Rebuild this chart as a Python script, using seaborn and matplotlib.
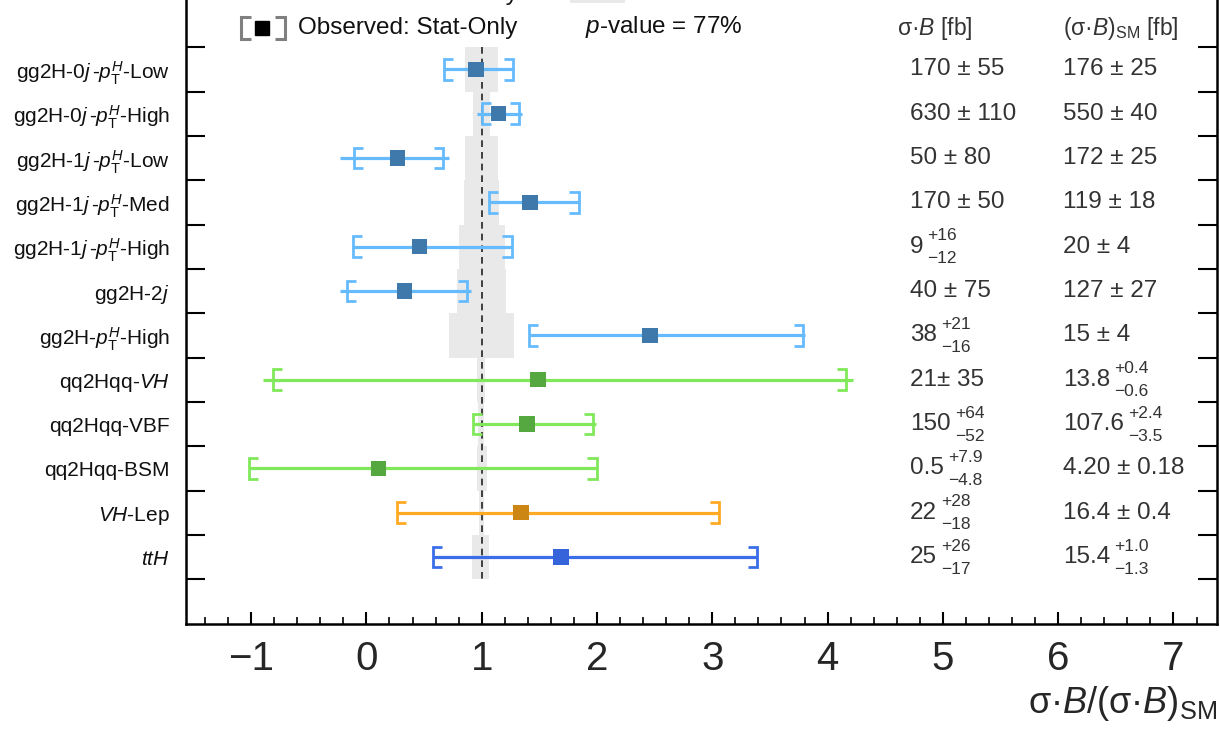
import numpy as np
import pandas as pd
import matplotlib
matplotlib.use("Agg")
import matplotlib.pyplot as plt
from matplotlib.ticker import MultipleLocator
from matplotlib.patches import Rectangle
from matplotlib.transforms import offset_copy
import seaborn as sns

# ── data: measured sigma*B normalised to the SM ─────────────────
labels = [
    r"gg2H-0$j\,$-$p_{\mathrm{T}}^{H}$-Low",
    r"gg2H-0$j\,$-$p_{\mathrm{T}}^{H}$-High",
    r"gg2H-1$j\,$-$p_{\mathrm{T}}^{H}$-Low",
    r"gg2H-1$j\,$-$p_{\mathrm{T}}^{H}$-Med",
    r"gg2H-1$j\,$-$p_{\mathrm{T}}^{H}$-High",
    r"gg2H-2$j$",
    r"gg2H-$p_{\mathrm{T}}^{H}$-High",
    r"qq2Hqq-$VH$",
    r"qq2Hqq-VBF",
    r"qq2Hqq-BSM",
    r"$VH$-Lep",
    r"$ttH$",
]
groups = ["gg2H"] * 7 + ["qq2Hqq"] * 3 + ["VHlep"] + ["ttH"]

mu      = [0.953, 1.146, 0.270, 1.420, 0.459, 0.332, 2.460, 1.490, 1.395, 0.107, 1.340, 1.687]
tot_lo  = [0.667, 0.961, -0.228, 1.057, -0.128, -0.229, 1.410, -0.894, 0.927, -1.018, 0.262, 0.574]
tot_hi  = [1.282, 1.354, 0.717, 1.857, 1.268, 0.904, 3.800, 4.220, 1.990, 1.997, 3.060, 3.390]
stat_lo = [0.675, 1.005, -0.107, 1.063, -0.120, -0.171, 1.410, -0.813, 0.927, -1.018, 0.262, 0.574]
stat_hi = [1.274, 1.326, 0.667, 1.840, 1.260, 0.875, 3.790, 4.160, 1.967, 1.997, 3.060, 3.390]

# relative SM uncertainty (down / up)
sm_lo = [0.142, 0.073, 0.145, 0.151, 0.200, 0.213, 0.284, 0.043, 0.033, 0.043, 0.024, 0.084]
sm_hi = [0.142, 0.073, 0.145, 0.151, 0.200, 0.213, 0.284, 0.029, 0.022, 0.043, 0.024, 0.065]

# printed cross sections [fb]
xsec_val = ["170 ± 55", "630 ± 110", "50 ± 80", "170 ± 50", "9", "40 ± 75",
            "38", "21± 35", "150", "0.5", "22", "25"]
xsec_up  = ["", "", "", "", "+16", "", "+21", "", "+64", "+7.9", "+28", "+26"]
xsec_dn  = ["", "", "", "", "−12", "", "−16", "", "−52", "−4.8", "−18", "−17"]
sm_val = ["176 ± 25", "550 ± 40", "172 ± 25", "119 ± 18", "20 ± 4", "127 ± 27",
          "15 ± 4", "13.8", "107.6", "4.20 ± 0.18", "16.4 ± 0.4", "15.4"]
sm_up  = ["", "", "", "", "", "", "", "+0.4", "+2.4", "", "", "+1.0"]
sm_dn  = ["", "", "", "", "", "", "", "−0.6", "−3.5", "", "", "−1.3"]

line_colors = {"gg2H": "#66bbff", "qq2Hqq": "#80e85a", "VHlep": "#ffaa22", "ttH": "#3a6ee8"}
sq_colors   = {"gg2H": "#3f79ab", "qq2Hqq": "#55a83f", "VHlep": "#cc8614", "ttH": "#3563d9"}

rows = np.arange(len(labels))
df = pd.DataFrame({"row": rows, "mu": mu, "group": groups})

# ── style ───────────────────────────────────────────────────────
sns.set_style("ticks")
plt.rcParams["font.family"] = ["Liberation Sans", "DejaVu Sans"]
plt.rcParams["mathtext.fontset"] = "custom"
plt.rcParams["mathtext.rm"] = "Liberation Sans"
plt.rcParams["mathtext.it"] = "Liberation Sans:italic"
plt.rcParams["mathtext.bf"] = "Liberation Sans:bold"

fig = plt.figure(figsize=(12.2, 7.46), dpi=100)
ax = fig.add_axes([0.1525, 0.1642, 0.8451, 0.8914])

# SM uncertainty bands
ax.barh(rows, np.add(sm_lo, sm_hi), left=1 - np.array(sm_lo), height=1.0,
        color="#e9e9e9", lw=0, zorder=1)
ax.vlines(1, -0.5, 11.5, colors="#222222", linestyles=(0, (4, 3)), lw=1.2, zorder=2)

# total uncertainty lines
ax.hlines(rows, tot_lo, tot_hi, colors=[line_colors[g] for g in groups], lw=2.3, zorder=3)


def bracket(x, y, side, color, h=0.23, arm=0.08, lw=2.0):
    ax.plot([x + side * arm, x, x, x + side * arm], [y - h, y - h, y + h, y + h],
            color=color, lw=lw, solid_joinstyle="miter", solid_capstyle="butt", zorder=3)


# stat-only brackets
for i, g in enumerate(groups):
    bracket(stat_lo[i], rows[i], +1, line_colors[g])
    bracket(stat_hi[i], rows[i], -1, line_colors[g])

sns.scatterplot(data=df, x="mu", y="row", hue="group", palette=sq_colors, marker="s",
                s=125, linewidth=0, legend=False, ax=ax, zorder=5)

# axes limits first, text placement depends on them
ax.set_xlim(-1.564, 7.378)
ax.set_ylim(12.5, -2.5)

# value columns
renderer = fig.canvas.get_renderer()
up_tr = offset_copy(ax.transData, fig=fig, x=0, y=11, units="dots")
dn_tr = offset_copy(ax.transData, fig=fig, x=0, y=-12, units="dots")


def value(x, y, val, up, dn):
    t = ax.text(x, y, val, fontsize=17.5, color="#333333", va="center", ha="left")
    if up:
        bb = t.get_window_extent(renderer)
        xs = ax.transData.inverted().transform((bb.x1 + 4, 0))[0]
        ax.text(xs, y, up, fontsize=12.5, color="#333333", va="center", ha="left", transform=up_tr)
        ax.text(xs, y, dn, fontsize=12.5, color="#333333", va="center", ha="left", transform=dn_tr)


for i in rows:
    value(4.715, i, xsec_val[i], xsec_up[i], xsec_dn[i])
    value(6.042, i, sm_val[i], sm_up[i], sm_dn[i])

ax.text(4.60, -0.93, r"σ·$B$ [fb]", fontsize=16.5, color="#333333", va="center")
ax.text(6.04, -0.93, r"(σ·$B$)$_{\mathrm{SM}}$ [fb]", fontsize=16.5, color="#333333", va="center")

# legend (top rows, the first one mostly above the canvas)
ax.text(-0.454, -1.56, "Observed: Stat+Syst", fontsize=17.5, va="baseline", color="#111111")
ax.plot([-1.09, -0.71], [-2.0, -2.0], color="black", lw=2.3)
ax.plot([-0.905], [-2.0], marker="s", color="black", ms=10.5)
ax.add_patch(Rectangle((1.766, -1.95), 0.477, 0.464, color="#e9e9e9", lw=0))

bracket(-1.085, -0.93, +1, "#808080", h=0.25, lw=2.2)
bracket(-0.71, -0.93, -1, "#808080", h=0.25, lw=2.2)
ax.plot([-0.905], [-0.93], marker="s", color="black", ms=10.5, lw=0)
ax.text(-0.593, -0.93, "Observed: Stat-Only", fontsize=17.5, va="center", color="#111111")
ax.text(1.896, -0.96, "$p$-value = 77%", fontsize=17.5, va="center", color="#111111")

# axes
ax.xaxis.set_major_locator(MultipleLocator(1))
ax.xaxis.set_minor_locator(MultipleLocator(0.2))
ax.set_yticks(np.arange(-0.5, 12.0, 1.0))
ax.set_yticklabels([])
ax.set_yticks(rows, minor=True)
ax.set_yticklabels(labels, minor=True, fontsize=15, color="#111111")
ax.tick_params(axis="y", which="major", direction="in", length=14, width=1.5,
               left=True, right=True, color="black")
ax.tick_params(axis="y", which="minor", length=0, pad=11.5)
ax.tick_params(axis="x", which="major", direction="in", length=9, width=1.5,
               labelsize=29, pad=12, top=True, color="black")
ax.tick_params(axis="x", which="minor", direction="in", length=4.8, width=1.2,
               top=True, color="black")
ax.set_ylabel("")
ax.set_xlabel(r"σ·$B$/(σ·$B$)$_{\mathrm{SM}}$", fontsize=26, loc="right", labelpad=4)
for s in ax.spines.values():
    s.set_linewidth(1.8)
    s.set_color("black")

fig.savefig("out.png", dpi=100)
